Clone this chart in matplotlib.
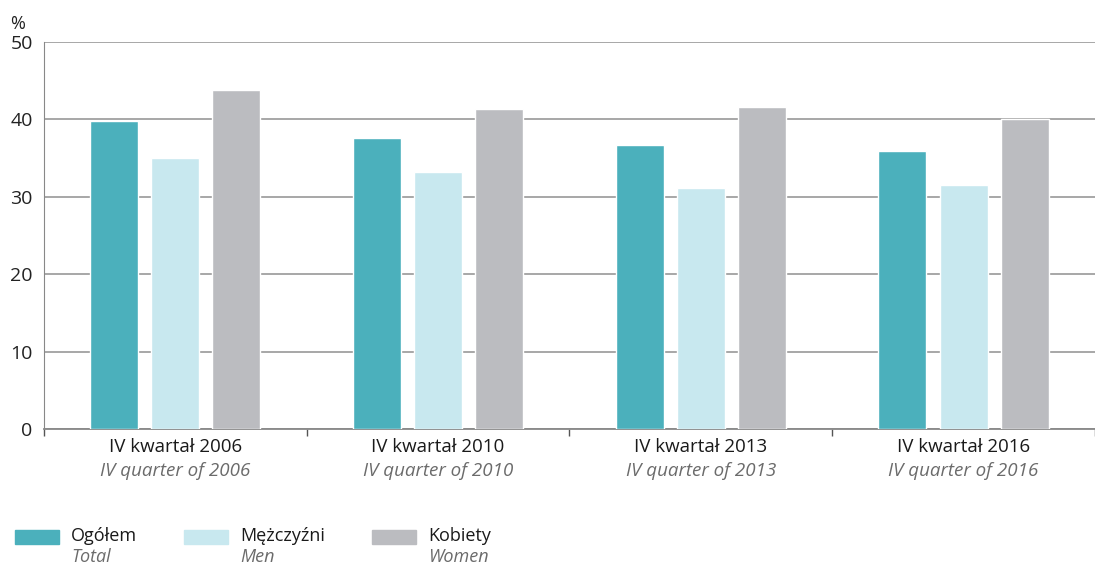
import matplotlib
matplotlib.use("Agg")
import matplotlib.pyplot as plt
import numpy as np
from matplotlib.patches import Rectangle

plt.rcParams['font.family'] = ['Open Sans', 'DejaVu Sans']

categories_pl = ["IV kwartał 2006", "IV kwartał 2010", "IV kwartał 2013", "IV kwartał 2016"]
categories_en = ["IV quarter of 2006", "IV quarter of 2010", "IV quarter of 2013", "IV quarter of 2016"]
series_pl = ["Ogółem", "Mężczyźni", "Kobiety"]
series_en = ["Total", "Men", "Women"]
total = [39.8, 37.6, 36.7, 35.9]
men = [35.0, 33.2, 31.1, 31.5]
women = [43.8, 41.3, 41.6, 40.0]
colors = ["#4bb0bc", "#c8e8ef", "#bbbcc0"]
yticks = [0, 10, 20, 30, 40, 50]

fig = plt.figure(figsize=(10.95, 5.67), dpi=100)
ax = fig.add_axes([0.040, 0.2434, 0.960, 0.6826])

x = np.arange(len(categories_pl))
w = 0.183
step = 0.233
for i, (vals, c) in enumerate(zip([total, men, women], colors)):
    ax.bar(x + (i - 1) * step, vals, width=w, color=c, edgecolor="white", linewidth=1.0, zorder=3)

ax.set_xlim(-0.5, len(categories_pl) - 0.5)
ax.set_ylim(0, 50)
ax.set_yticks(yticks)
ax.set_yticklabels([str(t) for t in yticks], fontsize=14, color="#222222")
ax.yaxis.grid(True, color="#a0a0a0", linewidth=1.3, zorder=0)
ax.set_axisbelow(True)
ax.tick_params(axis="y", length=0, pad=8)

ax.set_xticks(np.arange(len(categories_pl) + 1) - 0.5)
ax.set_xticklabels([])
ax.tick_params(axis="x", length=5, color="#555555", width=1)
for xi, (p, e) in enumerate(zip(categories_pl, categories_en)):
    ax.text(xi, -1.2, p, ha="center", va="top", fontsize=13.5, color="#1a1a1a")
    ax.text(xi, -4.2, e, ha="center", va="top", fontsize=13.5, color="#6b6b6b", style="italic")

for s in ["top", "right"]:
    ax.spines[s].set_visible(False)
ax.spines["left"].set_color("#888888")
ax.spines["bottom"].set_color("#888888")
ax.spines["bottom"].set_linewidth(1.3)

fig.text(0.009, 0.958, "%", fontsize=13, color="#222222", ha="left", va="center")

# legend
leg_x = [0.014, 0.168, 0.340]
for lx, c, p, e in zip(leg_x, colors, series_pl, series_en):
    fig.patches.append(Rectangle((lx, 0.041), 0.040, 0.025, transform=fig.transFigure, color=c))
    fig.text(lx + 0.051, 0.055, p, fontsize=13, color="#1a1a1a", ha="left", va="center")
    fig.text(lx + 0.051, 0.018, e, fontsize=13, color="#6b6b6b", ha="left", va="center", style="italic")

fig.savefig("out.png", dpi=100)
